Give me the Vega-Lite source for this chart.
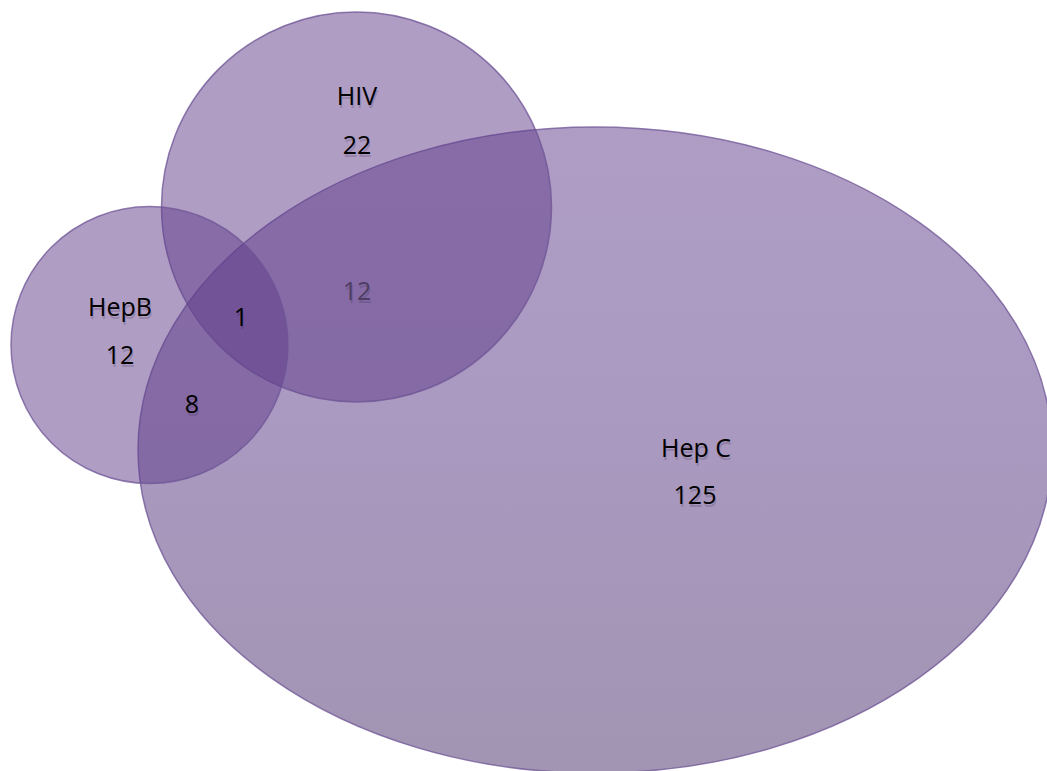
{
  "$schema": "https://vega.github.io/schema/vega-lite/v6.json",
  "width": 1047,
  "height": 771,
  "autosize": "none",
  "padding": 0,
  "background": "#ffffff",
  "config": {"view": {"stroke": null}},
  "datasets": {
    "sets": [
      {"set": "Hep C", "cx": 595, "cy": 450, "r": 457},
      {"set": "HIV", "cx": 356.5, "cy": 207, "r": 195},
      {"set": "HepB", "cx": 149.5, "cy": 345, "r": 138.5}
    ],
    "labels": [
      {"region": "HIV", "text": "HIV", "lx": 357, "ly": 96},
      {"region": "HIV", "text": "22", "lx": 357, "ly": 145},
      {"region": "HepB", "text": "HepB", "lx": 120, "ly": 307},
      {"region": "HepB", "text": "12", "lx": 120, "ly": 355},
      {"region": "All three", "text": "1", "lx": 241, "ly": 317},
      {"region": "HepB & Hep C", "text": "8", "lx": 192, "ly": 404},
      {"region": "HIV & Hep C", "text": "12", "lx": 357, "ly": 291},
      {"region": "Hep C", "text": "Hep C", "lx": 696, "ly": 448},
      {"region": "Hep C", "text": "125", "lx": 695, "ly": 495}
    ]
  },
  "layer": [
    {
      "data": {"name": "sets"},
      "transform": [{"filter": "datum.set === 'Hep C'"}],
      "mark": {
        "type": "point",
        "filled": true,
        "shape": "M -1 0 C -1 -0.3904 -0.5523 -0.7068 0 -0.7068 C 0.5523 -0.7068 1 -0.3904 1 0 C 1 0.3904 0.5523 0.7068 0 0.7068 C -0.5523 0.7068 -1 0.3904 -1 0 Z",
        "fill": {
          "gradient": "linear",
          "x1": 0, "y1": 0, "x2": 0, "y2": 1,
          "stops": [
            {"offset": 0, "color": "#5f3b8a"},
            {"offset": 0.5, "color": "#543380"},
            {"offset": 1, "color": "#452a66"}
          ]
        },
        "fillOpacity": 0.5,
        "opacity": 1,
        "stroke": "#6e5496",
        "strokeWidth": 1.5,
        "strokeOpacity": 0.75
      },
      "encoding": {
        "x": {"field": "cx", "type": "quantitative", "scale": {"domain": [0, 1047]}, "axis": null},
        "y": {"field": "cy", "type": "quantitative", "scale": {"domain": [0, 771], "reverse": true}, "axis": null},
        "size": {"field": "r", "type": "quantitative", "scale": {"type": "pow", "exponent": 2, "domain": [0, 100], "range": [0, 40000]}, "legend": null}
      }
    },
    {
      "data": {"name": "sets"},
      "transform": [{"filter": "datum.set !== 'Hep C'"}],
      "mark": {
        "type": "point",
        "filled": true,
        "shape": "circle",
        "fill": "#5f3b8a",
        "fillOpacity": 0.5,
        "opacity": 1,
        "stroke": "#6e5496",
        "strokeWidth": 1.5,
        "strokeOpacity": 0.75
      },
      "encoding": {
        "x": {"field": "cx", "type": "quantitative", "scale": {"domain": [0, 1047]}, "axis": null},
        "y": {"field": "cy", "type": "quantitative", "scale": {"domain": [0, 771], "reverse": true}, "axis": null},
        "size": {"field": "r", "type": "quantitative", "scale": {"type": "pow", "exponent": 2, "domain": [0, 100], "range": [0, 40000]}, "legend": null}
      }
    },
    {
      "data": {"name": "labels"},
      "mark": {"type": "text", "font": "Open Sans", "fontSize": 25, "align": "center", "baseline": "middle", "dx": 1, "dy": 4, "color": "#2a1a3a", "opacity": 0.18},
      "encoding": {
        "x": {"field": "lx", "type": "quantitative", "scale": {"domain": [0, 1047]}, "axis": null},
        "y": {"field": "ly", "type": "quantitative", "scale": {"domain": [0, 771], "reverse": true}, "axis": null},
        "text": {"field": "text"}
      }
    },
    {
      "data": {"name": "labels"},
      "mark": {"type": "text", "font": "Open Sans", "fontSize": 25, "align": "center", "baseline": "middle", "dy": 1},
      "encoding": {
        "x": {"field": "lx", "type": "quantitative", "scale": {"domain": [0, 1047]}, "axis": null},
        "y": {"field": "ly", "type": "quantitative", "scale": {"domain": [0, 771], "reverse": true}, "axis": null},
        "text": {"field": "text"},
        "color": {"condition": {"test": "datum.region === 'HIV & Hep C'", "value": "#4d3d63"}, "value": "#000000"}
      }
    }
  ]
}
